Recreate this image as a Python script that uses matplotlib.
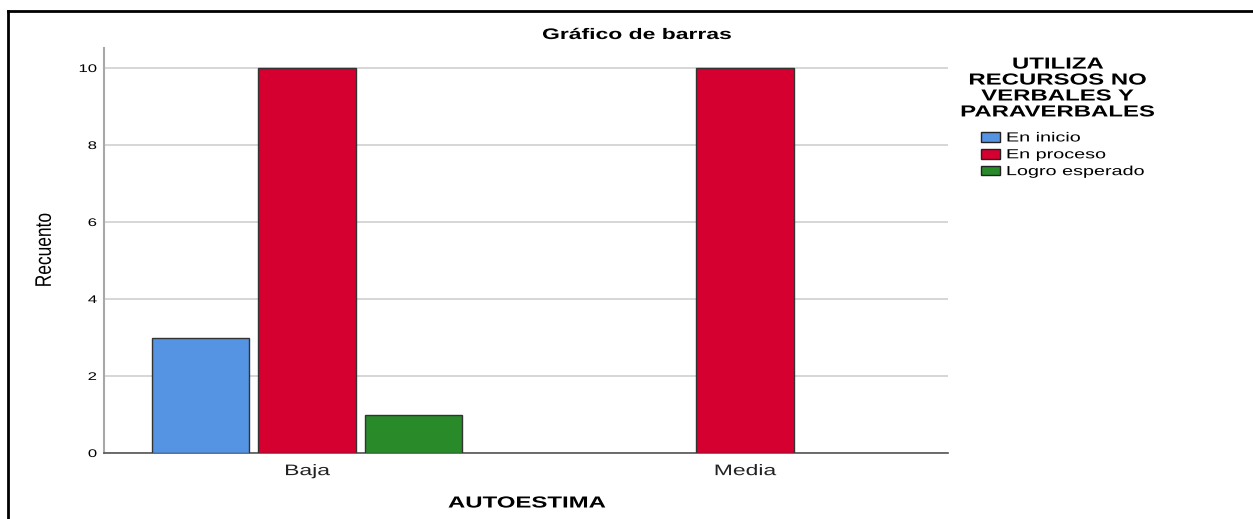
import matplotlib
matplotlib.use("Agg")
import matplotlib.pyplot as plt
from matplotlib.patches import Patch
from matplotlib.lines import Line2D
from matplotlib.patheffects import AbstractPathEffect
from matplotlib.transforms import Affine2D
import numpy as np

plt.rcParams['font.family'] = ['Liberation Sans', 'DejaVu Sans']

categories = ["Baja", "Media"]
series_names = ["En inicio", "En proceso", "Logro esperado"]
values = {
    "En inicio": [3, 0],
    "En proceso": [10, 10],
    "Logro esperado": [1, 0],
}
colors = ["#5594E2", "#D60030", "#298A2A"]
yticks = [0, 2, 4, 6, 8, 10]


class StretchX(AbstractPathEffect):
    """Widen text glyphs horizontally about the text's anchor point."""
    def __init__(self, text, sx):
        super().__init__()
        self.text = text
        self.sx = sx

    def draw_path(self, renderer, gc, tpath, affine, rgbFace=None):
        t = self.text
        axp, _ = t.get_transform().transform(t.get_position())
        extra = Affine2D().translate(-axp, 0).scale(self.sx, 1).translate(axp, 0)
        renderer.draw_path(gc, tpath, affine + extra, rgbFace)


def stretch(t, sx=1.5):
    t.set_path_effects([StretchX(t, sx)])
    return t


W, H = 1253, 519
fig = plt.figure(figsize=(W / 100, H / 100), dpi=100)
ax = fig.add_axes([104 / W, 1 - 453 / H, 844 / W, 405 / H])

x = np.arange(len(categories))
bw = 0.2215
step = 0.244
for i, name in enumerate(series_names):
    vals = values[name]
    for j, v in enumerate(vals):
        if v > 0:
            ax.bar(x[j] + (i - 1) * step, v, width=bw, color=colors[i],
                   edgecolor="#333333", linewidth=1.0, zorder=3)

ax.set_xlim(-0.4635, 1.4635)
ax.set_ylim(0, 10.52)
ax.set_yticks(yticks)
ax.set_yticklabels([str(t) for t in yticks], fontsize=8)
ax.set_xticks(x)
ax.set_xticklabels(categories, fontsize=11, color="#222222")
ax.tick_params(axis='x', length=0, pad=8)
ax.tick_params(axis='y', length=0, pad=5)
for t in ax.get_yticklabels() + ax.get_xticklabels():
    stretch(t)
ax.yaxis.grid(True, color="#d0d0d0", linewidth=1.2, zorder=0)
for s in ["top", "right"]:
    ax.spines[s].set_visible(False)
ax.spines["left"].set_color("#a8a8a8")
ax.spines["left"].set_linewidth(1.5)
ax.spines["bottom"].set_color("#555555")
ax.spines["bottom"].set_linewidth(1.2)

stretch(fig.text(637 / W, 1 - 35 / H, "Gráfico de barras", ha="center", va="center",
                 fontsize=11, fontweight="bold"))
stretch(fig.text(527 / W, 1 - 503 / H, "AUTOESTIMA", ha="center", va="center",
                 fontsize=11.5, fontweight="bold"))
stretch(fig.text(45 / W, 1 - 250 / H, "Recuento", ha="center", va="center",
                 rotation=90, fontsize=12.5), 1.3)

stretch(fig.text(1058 / W, 1 - 88 / H,
                 "UTILIZA\nRECURSOS NO\nVERBALES Y\nPARAVERBALES",
                 ha="center", va="center", fontsize=11.5, fontweight="bold",
                 linespacing=1.08))

handles = [Patch(facecolor=c, edgecolor="#222222", linewidth=1.0) for c in colors]
leg = fig.legend(handles, series_names, loc="upper left",
                 bbox_to_anchor=(981 / W, 1 - 132 / H), frameon=False,
                 fontsize=9.5, handlelength=1.44, handleheight=0.76,
                 handletextpad=0.45, labelspacing=0.33, borderaxespad=0,
                 borderpad=0)
for t in leg.get_texts():
    stretch(t)

# outer frame lines (top and left)
fig.add_artist(Line2D([8 / W, 1.0], [1 - 11 / H, 1 - 11 / H],
                      transform=fig.transFigure, color="black", linewidth=2))
fig.add_artist(Line2D([8 / W, 8 / W], [0, 1 - 11 / H],
                      transform=fig.transFigure, color="black", linewidth=2))

fig.savefig("out.png", dpi=100, facecolor="white")
